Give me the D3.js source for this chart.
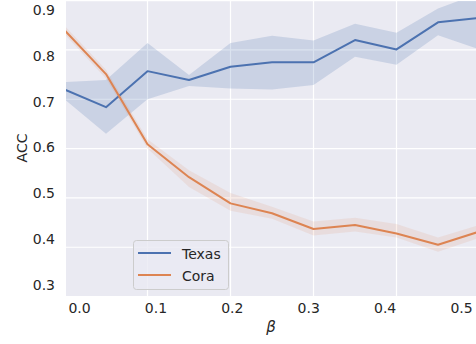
<!DOCTYPE html>
<html>
<head>
<meta charset="utf-8">
<script src="https://cdn.jsdelivr.net/npm/d3@7"></script>
<style>
  body { margin: 0; background: #fff; }
  svg { display: block; font-family: "DejaVu Sans", sans-serif; }
</style>
</head>
<body>
<svg id="chart" width="476" height="344"></svg>
<script>
// beta values (x)
var betas = [0, 0.05, 0.1, 0.15, 0.2, 0.25, 0.3, 0.35, 0.4, 0.45, 0.5];

// Texas: mean, lower, upper
var texasMean = [0.720, 0.684, 0.757, 0.739, 0.766, 0.775, 0.775, 0.820, 0.801, 0.856, 0.865];
var texasLow  = [0.700, 0.630, 0.700, 0.727, 0.722, 0.720, 0.729, 0.786, 0.770, 0.830, 0.801];
var texasHigh = [0.735, 0.739, 0.814, 0.749, 0.814, 0.829, 0.819, 0.853, 0.835, 0.884, 0.915];

// Cora: mean, lower, upper
var coraMean = [0.840, 0.751, 0.609, 0.542, 0.489, 0.469, 0.437, 0.445, 0.428, 0.405, 0.432];
var coraLow  = [0.832, 0.742, 0.600, 0.522, 0.474, 0.458, 0.424, 0.432, 0.420, 0.391, 0.419];
var coraHigh = [0.849, 0.760, 0.619, 0.556, 0.510, 0.482, 0.452, 0.460, 0.447, 0.420, 0.445];

var xTicks = [0.0, 0.1, 0.2, 0.3, 0.4, 0.5];
var yTicks = [0.3, 0.4, 0.5, 0.6, 0.7, 0.8, 0.9];

var series = [
    {name: "Texas", color: "#4c72b0", band: 0.2, mean: texasMean, low: texasLow, high: texasHigh},
    {name: "Cora", color: "#dd8452", band: 0.13, mean: coraMean, low: coraLow, high: coraHigh}
];

var svg = d3.select("#chart");
var plot = {left: 66, right: 476, top: 1, bottom: 296};

// scale used for the marks + grid
var x = d3.scaleLinear().domain([0, 0.5]).range([64.5, 479.5]);
var y = d3.scaleLinear().domain([0.3, 0.9]).range([296.6, 0.6]);
// tick labels sit on their own spacing in the picture
var xLab = d3.scaleLinear().domain([0, 0.5]).range([79, 461]);
var yLab = d3.scaleLinear().domain([0.3, 0.9]).range([285, 10]);

svg.append("defs").append("clipPath").attr("id", "clip")
    .append("rect")
    .attr("x", plot.left).attr("y", plot.top)
    .attr("width", plot.right - plot.left).attr("height", plot.bottom - plot.top);

svg.append("rect")
    .attr("x", plot.left).attr("y", plot.top)
    .attr("width", plot.right - plot.left).attr("height", plot.bottom - plot.top)
    .attr("fill", "#eaeaf2");

var grid = svg.append("g").attr("clip-path", "url(#clip)");
grid.selectAll("line.gx")
    .data(xTicks)
    .enter()
    .append("line")
    .attr("class", "gx")
    .attr("x1", function(d) { return x(d); })
    .attr("x2", function(d) { return x(d); })
    .attr("y1", plot.top).attr("y2", plot.bottom)
    .attr("stroke", "#fff").attr("stroke-width", 1.2);
grid.selectAll("line.gy")
    .data(yTicks)
    .enter()
    .append("line")
    .attr("class", "gy")
    .attr("y1", function(d) { return y(d); })
    .attr("y2", function(d) { return y(d); })
    .attr("x1", plot.left).attr("x2", plot.right)
    .attr("stroke", "#fff").attr("stroke-width", 1.2);

var marks = svg.append("g").attr("clip-path", "url(#clip)");

var area = function(s) {
    return d3.area()
        .x(function(d, i) { return x(betas[i]); })
        .y0(function(d, i) { return y(s.low[i]); })
        .y1(function(d, i) { return y(s.high[i]); });
};
var line = d3.line()
    .x(function(d, i) { return x(betas[i]); })
    .y(function(d) { return y(d); });

series.forEach(function(s) {
    marks.append("path")
        .attr("d", area(s)(s.mean))
        .attr("fill", s.color)
        .attr("fill-opacity", s.band);
});
series.forEach(function(s) {
    marks.append("path")
        .attr("d", line(s.mean))
        .attr("fill", "none")
        .attr("stroke", s.color)
        .attr("stroke-width", 2)
        .attr("stroke-linejoin", "round");
});

// axes (labels only)
var gx = svg.append("g")
    .attr("transform", "translate(0," + plot.bottom + ")")
    .call(d3.axisBottom(xLab).tickValues(xTicks).tickFormat(d3.format(".1f")).tickSize(0).tickPadding(7.5));
var gy = svg.append("g")
    .attr("transform", "translate(" + plot.left + ",0)")
    .call(d3.axisLeft(yLab).tickValues(yTicks).tickFormat(d3.format(".1f")).tickSize(0).tickPadding(11));
[gx, gy].forEach(function(g) {
    g.select(".domain").remove();
    g.selectAll("text")
        .attr("fill", "#262626")
        .style("font-size", "14px")
        .style("font-family", "DejaVu Sans");
});

svg.append("text")
    .attr("transform", "translate(27,148) rotate(-90)")
    .attr("text-anchor", "middle")
    .attr("fill", "#262626")
    .style("font-size", "14px")
    .text("ACC");

svg.append("text")
    .attr("x", 271).attr("y", 332)
    .attr("text-anchor", "middle")
    .attr("fill", "#262626")
    .style("font-size", "15px")
    .style("font-style", "italic")
    .text("β");

// legend
var legend = svg.append("g");
legend.append("rect")
    .attr("x", 133.5).attr("y", 240.5)
    .attr("width", 95).attr("height", 49)
    .attr("rx", 3)
    .attr("fill", "#eaeaf2").attr("fill-opacity", 0.8)
    .attr("stroke", "#cccccc").attr("stroke-width", 1);
var items = legend.selectAll("g.item")
    .data(series)
    .enter()
    .append("g")
    .attr("class", "item")
    .attr("transform", function(d, i) { return "translate(0," + (253 + i * 22) + ")"; });
items.append("line")
    .attr("x1", 138).attr("x2", 171)
    .attr("stroke", function(d) { return d.color; })
    .attr("stroke-width", 2);
items.append("text")
    .attr("x", 182).attr("y", 6)
    .attr("fill", "#262626")
    .style("font-size", "14px")
    .text(function(d) { return d.name; });
</script>
</body>
</html>
